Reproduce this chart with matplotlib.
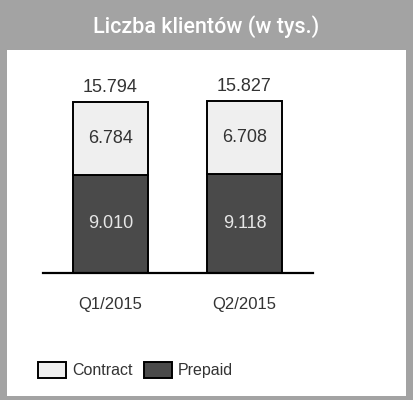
import matplotlib
matplotlib.use("Agg")
import matplotlib.pyplot as plt
from matplotlib.patches import Rectangle, Patch

categories = ["Q1/2015", "Q2/2015"]
prepaid = [9010, 9118]
contract = [6784, 6708]
totals = [15794, 15827]
prepaid_labels = ["9.010", "9.118"]
contract_labels = ["6.784", "6.708"]
total_labels = ["15.794", "15.827"]
title = "Liczba klientów (w tys.)"

plt.rcParams['font.family'] = ['Liberation Sans', 'DejaVu Sans']

W, H = 413, 400
fig = plt.figure(figsize=(W / 100, H / 100), dpi=100)

def fx(px):
    return px / W

def fy(py):
    return 1 - py / H

# frame
border = "#a3a3a3"
fig.patches.append(Rectangle((0, 0), 1, 1, transform=fig.transFigure, facecolor=border, edgecolor='none', zorder=-2))
fig.patches.append(Rectangle((fx(7), fy(396)), fx(406) - fx(7), fy(50) - fy(396), transform=fig.transFigure,
                             facecolor='white', edgecolor='none', zorder=-1))
fig.text(fx(206), fy(27), title, ha='center', va='center', color='white', fontsize=15.5,
         family=['Roboto', 'DejaVu Sans'], fontweight='medium')

# axes
ax_l, ax_r = 43, 313
ax_b = 272.7
ax_t = 77.8
ax = fig.add_axes([fx(ax_l), fy(ax_b), fx(ax_r) - fx(ax_l), fy(ax_t) - fy(ax_b)])
ax.set_zorder(1)
ax.set_xlim(-0.503, 1.511)
ax.set_ylim(0, 18000)
ax.patch.set_alpha(0)
for s in ['top', 'right', 'left']:
    ax.spines[s].set_visible(False)
ax.spines['bottom'].set_linewidth(1.6)
ax.set_yticks([])
ax.set_xticks([])

x = [0, 1]
w = 0.56
ax.bar(x, prepaid, width=w, color='#4a4a4a', edgecolor='black', linewidth=1.4, label='Prepaid', zorder=2)
ax.bar(x, contract, width=w, bottom=prepaid, color='#efefef', edgecolor='black', linewidth=1.4, label='Contract', zorder=2)

for i in range(2):
    ax.text(x[i], prepaid[i] / 2, prepaid_labels[i], ha='center', va='center', color='#e6e6e6', fontsize=13)
    ax.text(x[i], prepaid[i] + contract[i] / 2, contract_labels[i], ha='center', va='center', color='#333333', fontsize=13)
    ax.text(x[i], totals[i] + 550, total_labels[i], ha='center', va='bottom', color='#333333', fontsize=13)
    ax.text(x[i], -2950, categories[i], ha='center', va='center', color='#333333', fontsize=12)

handles = [Patch(facecolor='#efefef', edgecolor='black', linewidth=1.4, label='Contract'),
           Patch(facecolor='#4a4a4a', edgecolor='black', linewidth=1.4, label='Prepaid')]
fig.legend(handles=handles, loc='center left', bbox_to_anchor=(fx(38), fy(370)), ncol=2, frameon=False,
           fontsize=11.5, handlelength=1.75, handleheight=1.25, handletextpad=0.37, columnspacing=0.72,
           labelcolor='#333333', borderpad=0, borderaxespad=0)

fig.savefig("out.png", dpi=100)
